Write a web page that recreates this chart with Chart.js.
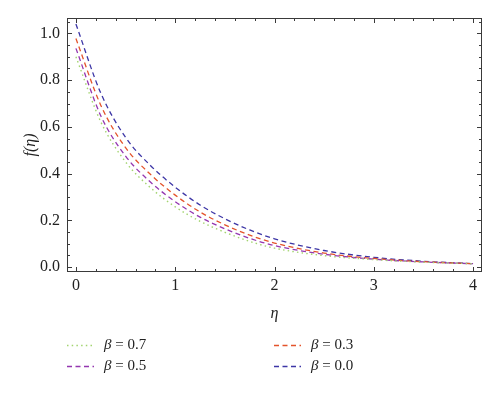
<!DOCTYPE html>
<html>
<head>
<meta charset="utf-8">
<script src="https://cdn.jsdelivr.net/npm/chart.js@4.4.1/dist/chart.umd.min.js"></script>
<style>
  html, body { margin: 0; padding: 0; background: #fff; }
  #wrap { width: 500px; height: 393px; position: relative; }
</style>
</head>
<body>
<div id="wrap"><canvas id="c" width="500" height="393"></canvas></div>
<script>
// ---- data ----
const eta = [0, 0.25, 0.5, 0.75, 1, 1.25, 1.5, 1.75, 2, 2.5, 3, 3.5, 4];
const fBeta00 = [1.04, 0.745, 0.555, 0.435, 0.342, 0.266, 0.207, 0.159, 0.121, 0.071, 0.042, 0.025, 0.0145];
const fBeta03 = [0.978, 0.693, 0.511, 0.397, 0.308, 0.236, 0.181, 0.137, 0.103, 0.060, 0.037, 0.023, 0.0145];
const fBeta05 = [0.936, 0.648, 0.475, 0.364, 0.280, 0.214, 0.164, 0.123, 0.092, 0.055, 0.034, 0.022, 0.0145];
const fBeta07 = [0.90, 0.622, 0.450, 0.340, 0.258, 0.196, 0.149, 0.110, 0.081, 0.049, 0.032, 0.021, 0.0145];
const seriesLabels = ['β = 0.7', 'β = 0.5', 'β = 0.3', 'β = 0.0'];
const xTickLabels = [0, 1, 2, 3, 4];
const yTickLabels = [0.0, 0.2, 0.4, 0.6, 0.8, 1.0];

const FONT = '"Liberation Serif", "DejaVu Serif", serif';
const AXIS = '#3a3a3a';
const TXT = '#222';

function pts(ys) { return eta.map((x, i) => ({ x: x, y: ys[i] })); }

const datasets = [
  { label: seriesLabels[0], data: pts(fBeta07), borderColor: '#a3d470', borderDash: [1.5, 3.2], borderWidth: 1.4 },
  { label: seriesLabels[1], data: pts(fBeta05), borderColor: '#9437b0', borderDash: [5, 3.5], borderWidth: 1.3 },
  { label: seriesLabels[2], data: pts(fBeta03), borderColor: '#e4532b', borderDash: [5, 3.5], borderWidth: 1.3 },
  { label: seriesLabels[3], data: pts(fBeta00), borderColor: '#3d36a6', borderDash: [5, 3.5], borderWidth: 1.3 }
].map(d => Object.assign(d, { pointRadius: 0, fill: false, cubicInterpolationMode: 'monotone', backgroundColor: d.borderColor }));

// frame + inward ticks, drawn from the chart's scales
const framePlugin = {
  id: 'frame',
  afterDatasetsDraw(chart) {
    const { ctx, chartArea: a, scales: { x, y } } = chart;
    ctx.save();
    ctx.strokeStyle = AXIS;
    ctx.lineWidth = 1;
    ctx.strokeRect(a.left + 0.5, a.top + 0.5, a.right - a.left - 1, a.bottom - a.top - 1);
    ctx.beginPath();
    for (let i = 0; i <= 20; i++) {
      const v = i * 0.2;
      const px = Math.round(x.getPixelForValue(v)) + 0.5;
      const len = (i % 5 === 0) ? 5 : 3;
      ctx.moveTo(px, a.bottom); ctx.lineTo(px, a.bottom - len);
      ctx.moveTo(px, a.top); ctx.lineTo(px, a.top + len);
    }
    for (let i = 0; i <= 21; i++) {
      const v = i * 0.05;
      const py = Math.round(y.getPixelForValue(v)) + 0.5;
      const len = (i % 4 === 0) ? 5 : 3;
      ctx.moveTo(a.left, py); ctx.lineTo(a.left + len, py);
      ctx.moveTo(a.right, py); ctx.lineTo(a.right - len, py);
    }
    ctx.stroke();
    ctx.restore();
  }
};

// two-column legend under the plot
const legendPlugin = {
  id: 'twoColLegend',
  afterDraw(chart) {
    const { ctx } = chart;
    const cols = [67, 274];
    const rows = [345, 366];
    chart.data.datasets.forEach((ds, i) => {
      const cx = cols[Math.floor(i / 2)];
      const cy = rows[i % 2];
      ctx.save();
      ctx.strokeStyle = ds.borderColor;
      ctx.lineWidth = ds.borderWidth;
      ctx.setLineDash(ds.borderDash);
      ctx.beginPath();
      ctx.moveTo(cx, cy + 0.5); ctx.lineTo(cx + 27, cy + 0.5);
      ctx.stroke();
      ctx.setLineDash([]);
      ctx.fillStyle = TXT;
      ctx.textBaseline = 'middle';
      const parts = ds.label.split(' ');
      ctx.font = 'italic 15px ' + FONT;
      const tx = cx + 37;
      ctx.fillText(parts[0], tx, cy);
      const w = ctx.measureText(parts[0]).width;
      ctx.font = '15px ' + FONT;
      ctx.fillText(' ' + parts.slice(1).join(' '), tx + w, cy);
      ctx.restore();
    });
  }
};

new Chart(document.getElementById('c'), {
  type: 'line',
  data: { datasets: datasets },
  options: {
    responsive: false,
    animation: false,
    layout: { padding: { left: 0, right: 18, top: 18, bottom: 0 } },
    plugins: { legend: { display: false }, tooltip: { enabled: false } },
    scales: {
      x: {
        type: 'linear',
        min: -0.09, max: 4.09,
        afterBuildTicks(s) { s.ticks = xTickLabels.map(v => ({ value: v })); },
        afterFit(s) { s.height = 121; },
        grid: { display: false, drawTicks: false },
        border: { display: false },
        ticks: { color: TXT, font: { family: FONT, size: 16 }, padding: 4, maxRotation: 0, autoSkip: false,
                 callback: v => String(v) },
        title: { display: true, text: 'η', color: TXT, font: { family: FONT, size: 16, style: 'italic' },
                 padding: { top: 0, bottom: 70 } }
      },
      y: {
        type: 'linear',
        min: -0.021, max: 1.066,
        afterBuildTicks(s) { s.ticks = yTickLabels.map(v => ({ value: v })); },
        afterFit(s) { s.width = 67; },
        grid: { display: false, drawTicks: false },
        border: { display: false },
        ticks: { color: TXT, font: { family: FONT, size: 16 }, padding: 7, autoSkip: false,
                 callback: v => Number(v).toFixed(1) },
        title: { display: true, text: 'f(η)', color: TXT, font: { family: FONT, size: 16, style: 'italic' },
                 padding: { top: 21, bottom: 0 } }
      }
    }
  },
  plugins: [framePlugin, legendPlugin]
});
</script>
</body>
</html>
